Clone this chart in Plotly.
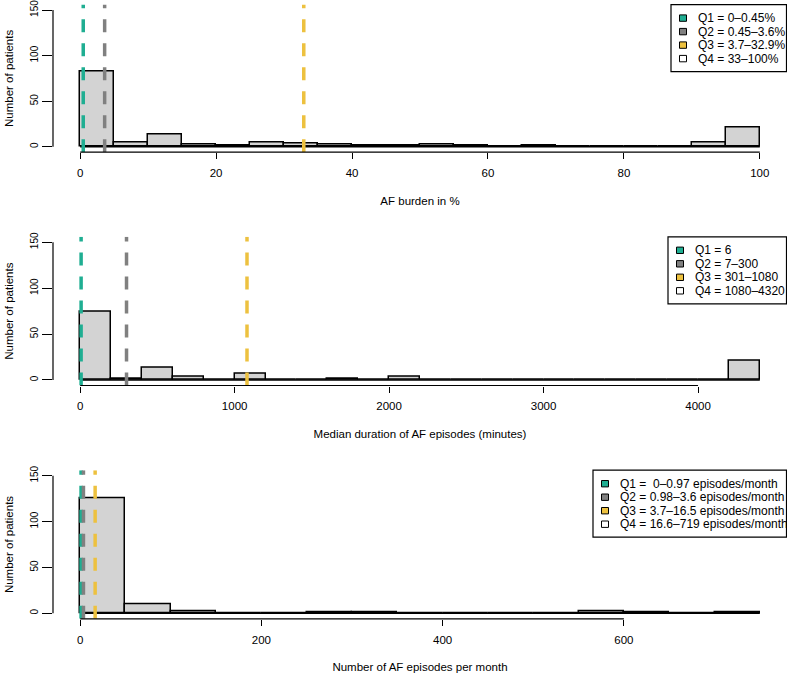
import plotly.graph_objects as go

W, H = 787, 674

# ---------------- data ----------------
burden_edges = list(range(0, 101, 5))
burden_counts = [82, 5, 13, 2, 1, 4, 3, 2, 1, 1, 2, 1, 0, 1, 0, 0, 0, 0, 4, 21]
burden_cuts = [0.45, 3.6, 32.9]
burden_ticks = [0, 20, 40, 60, 80, 100]
burden_legend = ["Q1 = 0–0.45%", "Q2 = 0.45–3.6%", "Q3 = 3.7–32.9%", "Q4 = 33–100%"]

duration_edges = list(range(0, 4401, 200))
duration_counts = [74, 1, 13, 3, 0, 7, 0, 0, 1, 0, 3, 0, 0, 0, 0, 0, 0, 0, 0, 0, 0, 21]
duration_cuts = [6, 300, 1080]
duration_ticks = [0, 1000, 2000, 3000, 4000]
duration_legend = ["Q1 = 6", "Q2 = 7–300", "Q3 = 301–1080", "Q4 = 1080–4320"]

episodes_edges = list(range(0, 751, 50))
episodes_counts = [125, 10, 2, 0, 0, 1, 1, 0, 0, 0, 0, 2, 1, 0, 1]
episodes_cuts = [0.97, 3.6, 16.5]
episodes_ticks = [0, 200, 400, 600]
episodes_legend = ["Q1 =\u00a0 0–0.97 episodes/month", "Q2 = 0.98–3.6 episodes/month",
                   "Q3 = 3.7–16.5 episodes/month", "Q4 = 16.6–719 episodes/month"]

y_ticks = [0, 50, 100, 150]
y_title = "Number of patients"
x_titles = ["AF burden in %", "Median duration of AF episodes (minutes)",
            "Number of AF episodes per month"]

# ---------------- style ----------------
quart_colors = ["#1FAE92", "#808080", "#EDC13F", "#FFFFFF"]
bar_fill = "#D3D3D3"
FONT = "Liberation Sans, Arial, sans-serif"

# panel placement in pixels (top, bottom of plot region) and legend left edge
panel_px = [(4.6, 152.2, 671), (236.8, 385.5, 668), (470.2, 618.8, 593)]
left_px = 53

panels = [
    (burden_edges, burden_counts, burden_cuts, burden_ticks, burden_legend),
    (duration_edges, duration_counts, duration_cuts, duration_ticks, duration_legend),
    (episodes_edges, episodes_counts, episodes_cuts, episodes_ticks, episodes_legend),
]

def px_x(p):
    return p / W

def px_y(p):
    return 1 - p / H

fig = go.Figure()
shapes = []
annotations = []

ylo = y_ticks[0] - 0.04 * (y_ticks[-1] - y_ticks[0])
yhi = y_ticks[-1] + 0.04 * (y_ticks[-1] - y_ticks[0])

for i, (edges, counts, cuts, ticks, leg) in enumerate(panels, start=1):
    sfx = "" if i == 1 else str(i)
    xa, ya = "x" + sfx, "y" + sfx
    centers = [(a + b) / 2 for a, b in zip(edges[:-1], edges[1:])]
    widths = [b - a for a, b in zip(edges[:-1], edges[1:])]
    span = edges[-1] - edges[0]
    xlo, xhi = edges[0] - 0.04 * span, edges[-1] + 0.04 * span

    # baseline (zero-height bins)
    fig.add_trace(go.Scatter(x=[edges[0], edges[-1]], y=[0, 0], mode="lines",
                             line=dict(color="black", width=1.5),
                             showlegend=False, hoverinfo="skip", xaxis=xa, yaxis=ya))
    fig.add_trace(go.Bar(x=centers, y=counts, width=widths,
                         marker=dict(color=bar_fill, line=dict(color="black", width=1.5)),
                         showlegend=False, xaxis=xa, yaxis=ya))
    for c, col in zip(cuts, quart_colors):
        fig.add_trace(go.Scatter(x=[c, c], y=[ylo, yhi], mode="lines",
                                 line=dict(color=col, width=3.5, dash="13px,11px"),
                                 showlegend=False, hoverinfo="skip", xaxis=xa, yaxis=ya))

    top, bot, leg_left = panel_px[i - 1]
    xkey = "xaxis" + sfx
    ykey = "yaxis" + sfx
    fig.update_layout(**{
        xkey: dict(domain=[px_x(left_px), 1.0], range=[xlo, xhi], anchor=ya,
                   tickvals=ticks, ticktext=[str(t) for t in ticks],
                   ticks="outside", ticklen=6, tickwidth=1.2, tickcolor="black",
                   showline=False, showgrid=False, zeroline=False, automargin=False,
                   tickfont=dict(family=FONT, size=11.5, color="black"),
                   ticklabelstandoff=4, ticklabeloverflow="allow",
                   title=dict(text=x_titles[i - 1], standoff=18,
                              font=dict(family=FONT, size=11.5, color="black"))),
        ykey: dict(domain=[px_y(bot), px_y(top)], range=[ylo, yhi], anchor=xa,
                   tickvals=y_ticks, ticktext=[str(t) for t in y_ticks],
                   ticks="outside", ticklen=10, tickwidth=1.2, tickcolor="black",
                   tickangle=-90, showline=False, showgrid=False, zeroline=False,
                   automargin=False, ticklabeloverflow="allow",
                   tickfont=dict(family=FONT, size=10, color="black"),
                   title=dict(text=y_title, standoff=12,
                              font=dict(family=FONT, size=11.5, color="black"))),
    })

    # axis lines spanning the tick range (R style)
    shapes.append(dict(type="line", xref=xa, yref=f"{ya} domain",
                       x0=ticks[0], x1=ticks[-1], y0=0, y1=0,
                       line=dict(color="black", width=1.2)))
    shapes.append(dict(type="line", xref=f"{xa} domain", yref=ya,
                       x0=0, x1=0, y0=y_ticks[0], y1=y_ticks[-1],
                       line=dict(color="black", width=1.2)))

    # legend box
    box_h = 67
    shapes.append(dict(type="rect", xref="paper", yref="paper",
                       x0=px_x(leg_left), x1=px_x(786.5),
                       y0=px_y(top + box_h), y1=px_y(top),
                       line=dict(color="black", width=1.2), fillcolor="white"))
    for k, (lab, col) in enumerate(zip(leg, quart_colors)):
        cy = top + 13.5 + 13.5 * k
        cx = leg_left + 12
        shapes.append(dict(type="rect", xref="paper", yref="paper",
                           x0=px_x(cx - 3.5), x1=px_x(cx + 3.5),
                           y0=px_y(cy + 3.2), y1=px_y(cy - 3.2),
                           line=dict(color="black", width=1), fillcolor=col))
        annotations.append(dict(xref="paper", yref="paper", x=px_x(leg_left + 25),
                                y=px_y(cy), text=lab, showarrow=False,
                                xanchor="left", yanchor="middle",
                                font=dict(family=FONT, size=12, color="black")))

fig.update_layout(
    width=W, height=H, margin=dict(l=0, r=0, t=0, b=0),
    plot_bgcolor="white", paper_bgcolor="white",
    showlegend=False, shapes=shapes, annotations=annotations,
    bargap=0, font=dict(family=FONT, size=11, color="black"),
)

fig.write_html("out.html", config={"displayModeBar": False},
               post_script="document.body.style.margin='0';document.body.style.padding='0';")
